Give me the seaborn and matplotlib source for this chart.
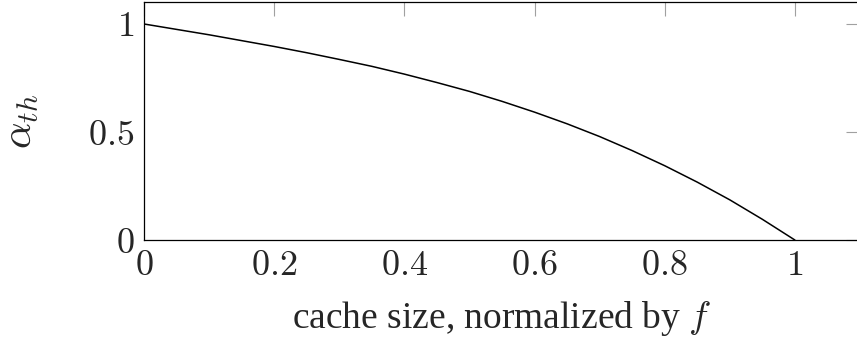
import matplotlib
matplotlib.use("Agg")
import matplotlib.pyplot as plt
import seaborn as sns
import numpy as np
import pandas as pd

# Normalized cache size and the corresponding threshold alpha_th
cache_size = [0.00, 0.05, 0.10, 0.15, 0.20, 0.25, 0.30, 0.35, 0.40, 0.45, 0.50,
              0.55, 0.60, 0.65, 0.70, 0.75, 0.80, 0.85, 0.90, 0.95, 1.00]
alpha_th = [1.000, 0.975, 0.950, 0.923, 0.896, 0.867, 0.836, 0.804, 0.768, 0.729, 0.688,
            0.642, 0.592, 0.538, 0.479, 0.414, 0.344, 0.268, 0.186, 0.096, 0.000]

x_ticks = [0, 0.2, 0.4, 0.6, 0.8, 1.0]
x_tick_labels = ["0", "0.2", "0.4", "0.6", "0.8", "1"]
y_ticks = [0, 0.5, 1.0]
y_tick_labels = ["0", "0.5", "1"]

sns.set_theme(style="white")
plt.rcParams["font.family"] = ["Liberation Serif", "DejaVu Serif"]
plt.rcParams["mathtext.fontset"] = "cm"

df = pd.DataFrame({"cache": cache_size, "alpha": alpha_th})

fig = plt.figure(figsize=(8.57, 3.40), dpi=100)
ax = fig.add_axes([0.168, 0.294, 0.8355, 0.699])

sns.lineplot(data=df, x="cache", y="alpha", color="black", linewidth=1.1, ax=ax)

ax.set_xlim(0, 1.1)
ax.set_ylim(0, 1.1)

ax.set_xticks(x_ticks)
ax.set_xticklabels([f"${t}$" for t in x_tick_labels])
ax.set_yticks(y_ticks)
ax.set_yticklabels([f"${t}$" for t in y_tick_labels])

ax.tick_params(axis="both", which="major", direction="in", length=10, width=0.8,
               color="#a0a0a0", top=True, right=True, labelsize=26, pad=7)

for side in ax.spines.values():
    side.set_color("black")
    side.set_linewidth(0.9)

ax.set_xlabel("cache size, normalized by $f$", fontsize=27, labelpad=12)
ax.set_ylabel(r"$\alpha_{th}$", fontsize=30, labelpad=34)

fig.savefig("out.png", dpi=100)
